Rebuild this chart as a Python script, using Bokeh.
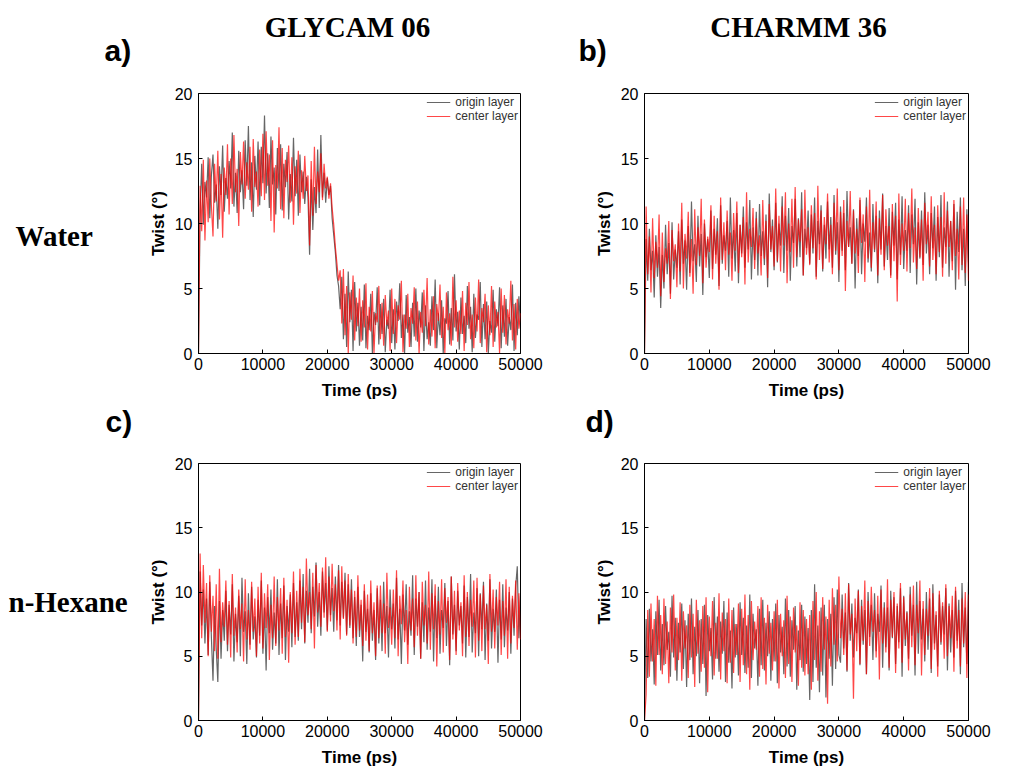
import numpy as np
from bokeh.plotting import figure
from bokeh.models import Range1d, FixedTicker, Legend, LegendItem
from bokeh.layouts import row, column
from bokeh.core.properties import value
from bokeh.embed import file_html
from bokeh.resources import INLINE

x_ticks = [0, 10000, 20000, 30000, 40000, 50000]
y_ticks = [0, 5, 10, 15, 20]
series_names = ["origin layer", "center layer"]
column_titles = ["GLYCAM 06", "CHARMM 36"]
row_titles = ["Water", "n-Hexane"]
panel_tags = ["a)", "b)", "c)", "d)"]

a_origin = [0,
    11.0, 14.6, 9.9, 13.2, 12.0, 15.1, 10.4, 13.7,
    15.3, 11.6, 13.0, 9.6, 14.4, 12.2, 16.0, 10.9, 13.5, 11.9,
    14.8, 12.7, 17.0, 11.3, 13.9, 10.8, 15.6, 12.4, 14.1, 11.1,
    16.4, 12.9, 17.5, 11.8, 14.7, 10.5, 15.2, 12.6, 16.3, 11.4,
    15.9, 13.1,
    18.3, 12.3, 15.4, 11.2, 16.7, 13.0, 14.3, 10.7, 15.8, 12.5,
    16.1, 11.0, 14.6, 12.8, 15.5, 10.3, 13.8, 11.7, 16.6, 12.1,
    14.9, 10.6, 15.3, 12.4, 14.0, 11.5, 13.6, 12.0,
    7.6, 13.4, 9.5, 12.8, 10.8, 15.7, 11.2, 16.8, 12.0, 13.9,
    11.6, 13.5, 12.2, 12.9,
    10.4, 9.1, 7.8, 6.0, 5.2, 3.4,
    5.9, 1.1, 4.6, 0.5, 6.3, 2.4, 4.9, 0.2, 5.5, 1.7, 3.9, 0.6,
    3.6, 1.0, 5.3, 0.4, 2.9, 1.8, 4.6, 0.0, 3.2, 2.2,
    5.1, 0.7, 3.8, 1.5, 4.2, 0.1, 2.6, 1.9, 4.9, 0.8,
    3.4, 0.3, 4.0, 2.5, 5.4, 1.2, 3.0, 0.0, 4.5, 1.6,
    2.8, 0.5, 3.9, 1.3, 5.0, 0.9, 3.3, 2.0, 4.7, 0.2,
    3.7, 1.1, 2.4, 0.6, 4.4, 1.8, 5.7, 0.4, 3.1, 1.4,
    4.1, 0.0, 2.7, 2.3, 4.8, 0.7, 3.5, 1.0, 6.1, 1.7,
    3.2, 0.3, 4.3, 1.5, 2.9, 0.8, 5.2, 1.9, 3.6, 0.1,
    4.6, 1.2, 3.0, 2.6, 5.5, 0.5, 3.8, 1.1, 4.0, 0.0,
    2.5, 1.6, 4.9, 0.9, 3.4, 2.1, 5.1, 0.4, 3.7, 1.3,
    4.2, 0.6, 2.8, 1.8, 5.3, 0.2, 3.9, 1.4, 4.4, 2.0]

a_center = [0,
    12.9, 9.4, 14.9, 8.7, 13.3, 10.1, 15.0, 11.4,
    9.0, 14.6, 11.7, 15.6, 10.3, 13.8, 8.9, 14.3, 12.2, 16.1,
    10.7, 15.0, 11.5, 16.8, 12.4, 14.2, 9.8, 15.5, 13.0, 16.3,
    11.9, 14.7, 12.6, 15.9, 10.9, 16.5, 12.8, 14.0, 11.3, 15.7,
    12.1, 16.9,
    11.8, 17.1, 12.9, 15.3, 10.2, 16.4, 9.3, 14.5, 12.7, 17.4,
    11.1, 15.8, 10.4, 14.9, 13.2, 16.0, 11.6, 15.1, 9.9, 14.4,
    12.3, 15.6, 10.8, 14.1, 11.9, 15.2, 12.5, 13.7,
    8.3, 14.8, 10.6, 15.9, 11.5, 14.0, 12.4, 15.4, 11.8, 14.6,
    12.7, 13.6, 11.9, 13.1,
    11.2, 9.9, 8.2, 6.9, 5.6, 6.4,
    2.3, 6.5, 1.4, 5.2, 0.0, 4.7, 2.6, 6.0, 1.0, 4.3, 2.1, 5.0,
    0.9, 4.1, 2.0, 5.4, 0.3, 3.6, 1.7, 4.8, 0.0, 3.1,
    2.4, 5.2, 1.1, 3.9, 0.6, 4.5, 2.2, 3.3, 0.2, 5.0,
    1.5, 4.2, 0.8, 3.7, 2.6, 5.6, 0.1, 3.0, 1.9, 4.6,
    0.5, 3.5, 2.3, 5.1, 1.0, 4.0, 0.0, 3.2, 1.6, 4.9,
    2.1, 5.8, 0.7, 3.4, 1.3, 4.4, 0.4, 3.8, 2.5, 5.3,
    1.2, 3.6, 0.0, 4.7, 1.8, 3.1, 0.6, 5.9, 2.0, 4.1,
    0.9, 3.3, 1.5, 4.8, 0.2, 3.9, 2.2, 5.5, 1.1, 3.0,
    0.4, 4.3, 1.7, 5.7, 0.8, 3.5, 2.4, 4.6, 0.1, 3.7,
    1.4, 5.2, 0.5, 4.0, 2.0, 3.2, 0.0, 5.0, 1.6, 4.5,
    0.7, 3.4, 2.3, 5.6, 1.0, 3.8, 0.3, 4.2, 1.9, 3.1]

b_origin = [0,
    8.8, 5.6, 9.6, 6.4, 7.9, 4.3, 9.1, 5.9, 8.2, 3.5,
    7.6, 5.0, 9.9, 6.1, 8.5, 4.6, 10.1, 5.7, 8.0, 6.6,
    9.4, 5.3, 10.3, 6.9, 8.7, 4.9, 9.8, 6.2, 11.7, 7.1,
    8.4, 5.5, 10.6, 6.7, 9.2, 4.5, 10.0, 7.4, 8.8, 5.8,
    11.0, 6.5, 9.6, 7.6, 10.4, 5.2, 11.4, 6.9, 9.1, 7.9,
    10.2, 5.9, 12.0, 7.3, 9.5, 6.3, 10.8, 5.4, 9.9, 7.7,
    11.3, 6.6, 10.1, 8.0, 11.8, 5.7, 9.7, 7.2, 10.9, 6.0,
    11.5, 7.5, 9.4, 6.8, 10.7, 5.1, 12.3, 7.8, 10.3, 6.4,
    11.6, 7.0, 10.0, 8.3, 12.1, 6.2, 10.6, 7.9, 11.2, 5.6,
    9.8, 8.5, 11.9, 6.7, 10.4, 7.4, 12.4, 6.0, 9.6, 8.1,
    11.0, 6.9, 10.7, 7.7, 12.0, 5.9, 10.2, 8.4, 11.4, 6.3,
    9.9, 7.3, 11.7, 8.0, 10.5, 6.6, 12.2, 7.6, 10.1, 5.5,
    11.3, 7.9, 10.8, 6.4, 12.5, 8.2, 9.7, 6.9, 11.1, 5.0,
    10.4, 7.5, 11.8, 6.1, 10.0, 8.6, 12.0, 7.0, 9.3, 6.3,
    11.5, 7.8, 10.6, 5.4, 11.0, 8.0, 12.3, 6.7, 9.8, 7.2,
    11.2, 6.0, 10.9, 8.3, 11.6, 5.7, 10.3, 7.6, 12.1, 6.5,
    9.5, 7.9, 11.4, 6.2, 10.7, 8.4, 11.9, 5.3, 10.1, 7.3,
    11.0, 6.8, 12.4, 7.7, 9.9, 6.1, 10.8, 8.1, 11.3, 5.6,
    10.5, 7.4, 12.2, 6.6, 9.7, 8.2, 11.7, 5.9, 10.2, 7.1,
    11.5, 4.9, 10.9, 7.8, 12.0, 6.4, 9.6, 5.2, 11.1, 7.0]

b_center = [0,
    11.3, 6.1, 9.0, 4.7, 10.4, 5.8, 8.6, 6.6, 10.7, 4.4,
    9.3, 5.5, 8.1, 6.9, 10.2, 4.2, 9.5, 7.1, 8.4, 5.1,
    10.0, 6.3, 11.6, 5.0, 9.2, 7.3, 10.9, 5.9, 8.8, 4.6,
    11.1, 6.8, 9.7, 7.5, 11.9, 5.4, 10.3, 6.6, 9.0, 7.8,
    11.4, 5.7, 10.6, 6.9, 9.4, 4.9, 12.0, 7.2, 10.1, 6.4,
    11.0, 7.6, 9.3, 5.6, 10.8, 7.9, 11.7, 6.2, 9.9, 7.4,
    10.5, 5.3, 12.4, 7.0, 9.6, 8.2, 11.2, 6.5, 10.4, 7.7,
    9.1, 6.0, 11.8, 7.3, 10.2, 5.8, 11.5, 8.0, 9.8, 6.7,
    12.7, 7.1, 10.6, 6.3, 11.3, 8.3, 12.4, 5.4, 10.0, 7.8,
    11.9, 6.6, 12.8, 7.4, 10.3, 8.6, 11.1, 6.0, 12.6, 7.6,
    9.7, 6.8, 11.4, 8.1, 10.8, 5.7, 12.9, 7.2, 11.0, 6.5,
    10.5, 8.4, 12.3, 7.0, 9.9, 6.1, 11.6, 7.9, 12.7, 6.4,
    10.9, 7.5, 11.8, 4.8, 10.2, 8.2, 12.5, 6.9, 11.0, 7.7,
    9.6, 6.2, 12.0, 8.5, 10.7, 5.5, 11.3, 7.3, 12.6, 6.6,
    10.1, 8.0, 11.7, 6.0, 10.4, 7.6, 12.2, 6.4, 11.1, 8.3,
    9.8, 5.8, 11.5, 7.1, 10.6, 4.0, 12.3, 6.8, 10.0, 7.9,
    11.9, 6.3, 10.8, 8.1, 12.7, 7.0, 9.7, 6.5, 11.2, 7.4,
    10.3, 5.6, 11.6, 8.4, 10.9, 6.7, 12.1, 7.2, 9.9, 6.1,
    11.4, 7.8, 10.5, 5.9, 12.4, 6.9, 11.0, 8.2, 10.2, 6.4,
    11.8, 7.5, 9.6, 5.7, 11.3, 6.8, 12.0, 6.2, 10.7, 5.6]

c_origin = [0,
    11.6, 7.4, 10.2, 6.0, 9.5, 5.1, 10.8, 6.5, 3.1, 8.9,
    5.6, 3.0, 9.3, 4.8, 8.6, 6.2,
    10.1, 5.4, 9.0, 6.7, 10.6, 4.6, 8.3, 6.1, 9.7, 5.0,
    11.1, 6.9, 8.5, 4.4, 9.9, 5.9, 10.4, 6.3, 8.1, 4.9,
    9.4, 6.6, 10.9, 5.2, 8.8, 3.9, 9.6, 6.8, 10.2, 5.5,
    8.4, 6.0, 11.0, 5.1, 9.1, 6.4, 10.5, 4.7, 8.9, 6.9,
    9.8, 5.7, 10.7, 6.5,
    9.2, 6.2, 10.9, 7.1, 11.4, 6.0, 10.1, 7.6, 11.8, 6.8,
    10.4, 8.1, 12.3, 7.3, 10.0, 6.6, 11.6, 8.4, 10.7, 7.0,
    12.0, 8.2, 10.3, 6.9, 11.2, 7.8, 12.1, 7.4, 10.8, 8.0,
    11.5, 6.7, 10.6, 7.2, 11.0, 6.4,
    9.6, 5.8, 10.4, 6.5, 9.0, 4.6, 10.1, 6.9, 8.7, 5.3,
    9.9, 6.2, 8.6, 4.7, 10.3, 6.0,
    9.4, 5.4, 10.8, 6.8, 8.9, 4.9, 10.2, 7.1, 9.1, 5.6,
    11.1, 6.3, 8.7, 4.4, 9.8, 7.0, 10.6, 5.9, 8.5, 6.6,
    11.3, 5.1, 9.5, 7.3, 10.0, 4.8, 9.2, 6.1, 10.9, 5.5,
    8.8, 6.9, 11.0, 4.6, 9.7, 6.4, 10.4, 5.2, 8.6, 7.2,
    10.7, 5.8, 9.3, 4.3, 11.2, 6.7, 9.0, 5.4, 10.1, 7.4,
    8.9, 6.0, 10.5, 4.9, 9.6, 6.5, 11.4, 5.3, 8.4, 6.8,
    10.3, 5.0, 9.9, 7.1, 10.8, 4.7, 9.1, 6.2, 11.0, 5.6,
    8.7, 6.9, 10.2, 4.5, 9.4, 6.3, 10.6, 5.7, 8.8, 7.0,
    10.0, 5.2, 9.5, 6.6, 10.4, 12.0, 6.4, 9.7]

c_center = [0,
    13.0, 6.4, 12.1, 7.6, 10.7, 5.0, 11.3, 6.9, 9.7, 5.4,
    10.6, 4.8, 11.8, 6.1, 9.2, 7.3,
    10.9, 5.9, 9.3, 4.9, 11.4, 6.6, 8.8, 5.3, 10.2, 7.1,
    9.1, 4.6, 11.0, 6.3, 8.6, 5.5, 10.8, 6.9, 9.5, 5.0,
    10.4, 6.0, 11.5, 5.6, 9.9, 7.2, 10.6, 4.7, 9.0, 6.4,
    11.2, 5.8, 9.6, 7.0, 10.3, 5.2, 11.1, 6.5, 9.4, 4.5,
    10.0, 6.8, 11.6, 5.9,
    10.1, 6.5, 11.8, 7.6, 10.4, 6.1, 12.6, 8.2, 10.0, 7.1,
    11.5, 5.6, 12.1, 8.4, 10.7, 7.3, 11.9, 8.0, 12.7, 6.9,
    11.2, 7.7, 12.2, 8.5, 10.6, 7.0, 11.7, 6.3, 12.0, 7.9,
    10.9, 6.6, 11.4, 7.4, 10.2, 6.0,
    10.1, 6.5, 11.3, 7.0, 9.4, 5.8, 10.6, 6.2, 9.8, 5.4,
    10.9, 6.8, 9.2, 5.0, 10.5, 6.4,
    10.5, 6.8, 9.1, 5.2, 11.5, 7.2, 8.8, 5.9, 10.2, 6.4,
    11.7, 5.0, 9.7, 7.5, 10.9, 6.1, 8.6, 4.4, 10.4, 7.0,
    9.5, 5.7, 11.3, 6.6, 10.0, 4.8, 10.8, 7.4, 9.0, 6.0,
    11.6, 5.5, 9.9, 7.1, 10.6, 4.2, 9.3, 6.7, 11.0, 5.3,
    10.3, 7.6, 9.6, 4.7, 11.2, 6.3, 10.1, 5.1, 10.7, 7.0,
    9.2, 5.0, 11.3, 6.5, 10.0, 5.8, 9.4, 7.3, 10.9, 4.9,
    11.1, 6.2, 9.8, 5.4, 10.5, 7.1, 9.0, 4.4, 11.4, 6.9,
    10.2, 5.6, 9.6, 7.4, 10.8, 5.1, 9.3, 6.6, 11.0, 4.8,
    10.4, 6.0, 9.7, 7.2, 10.9, 5.5, 9.9, 6.3]

d_origin = [0,
    7.9, 3.3, 8.7, 4.6, 7.1, 2.8, 8.5, 5.1, 9.4, 3.9,
    7.5, 4.3, 8.9, 5.5, 6.9, 3.4, 9.7, 4.9, 8.0, 3.1,
    7.6, 5.3, 9.1, 4.0, 7.8, 2.6, 8.3, 4.7, 9.5, 3.6,
    7.3, 5.0, 8.6, 2.9, 7.9, 4.4, 9.0, 1.9, 8.2, 5.4,
    7.2, 3.2, 9.6, 4.8, 8.1, 3.8, 7.7, 5.2, 9.3, 3.0,
    8.4, 4.5, 7.0, 2.5, 8.8, 4.9, 7.5, 3.5, 9.2, 5.1,
    8.0, 3.7, 7.4, 4.1, 9.8, 3.3, 8.3, 5.6, 7.1, 2.7,
    8.7, 4.3, 9.4, 3.9, 7.6, 5.0, 8.5, 3.1, 7.9, 4.6,
    9.1, 2.9, 8.2, 5.3, 7.3, 3.6, 9.5, 4.2, 8.6, 3.4,
    7.8, 5.5, 8.9, 2.4, 7.0, 4.7, 9.0, 3.8, 8.1, 4.4,
    7.2, 1.6, 8.6, 3.0, 10.6, 4.1, 7.4, 2.2, 8.8, 3.5,
    9.0, 1.8, 7.9, 4.8, 8.3, 2.7, 9.6, 4.0, 10.2, 5.1,
    4.5, 9.8, 5.6, 8.4, 3.8, 10.7, 6.2, 9.1, 4.9, 8.0,
    6.8, 10.2, 4.3, 9.4, 5.9, 8.6, 3.6, 10.0, 6.5, 9.0,
    4.7, 9.9, 5.4, 8.3, 6.9, 10.5, 4.1, 9.2, 5.7, 8.8,
    3.9, 10.1, 6.4, 9.6, 4.4, 8.9, 6.1, 10.3, 3.4, 9.7,
    5.8, 8.5, 4.8, 10.4, 6.6, 9.0, 3.5, 10.8, 5.2, 9.3,
    6.3, 8.7, 4.6, 10.0, 5.5, 9.5, 3.7, 10.6, 6.0, 8.2,
    4.2, 9.8, 5.9, 8.9, 6.7, 10.3, 3.9, 9.1, 5.3, 8.6,
    4.9, 10.1, 6.2, 9.4, 3.6, 10.7, 5.7, 8.8, 4.4, 10.8]

d_center = [0,
    2.0, 8.6, 3.4, 9.1, 4.6, 7.9, 2.7, 9.7, 5.1, 8.2,
    3.6, 9.5, 4.4, 7.7, 2.9, 8.8, 5.3, 9.8, 3.9, 8.0,
    4.7, 9.2, 3.1, 8.5, 5.6, 7.4, 3.3, 9.0, 4.9, 8.3,
    2.6, 9.4, 5.2, 7.8, 3.8, 8.9, 4.1, 9.6, 2.2, 8.1,
    5.0, 9.3, 3.5, 7.6, 4.8, 9.9, 3.2, 8.4, 5.4, 7.9,
    2.9, 9.5, 4.5, 8.6, 3.7, 7.5, 5.1, 9.1, 3.0, 8.7,
    4.3, 9.8, 3.6, 8.2, 2.4, 9.3, 4.7, 7.7, 5.5, 8.9,
    3.4, 9.6, 4.0, 8.0, 2.8, 9.0, 5.2, 7.6, 3.9, 8.5,
    4.6, 9.4, 2.5, 8.3, 5.0, 7.8, 3.3, 9.7, 4.4, 8.1,
    3.0, 8.8, 5.3, 7.4, 2.7, 9.2, 4.1, 8.6, 3.5, 7.9,
    3.6, 8.2, 2.4, 9.3, 4.7, 10.0, 3.1, 8.5, 3.8, 9.6,
    5.5, 8.1, 1.3, 9.4, 4.2, 10.3, 5.9, 9.0, 4.6, 11.2,
    6.4, 8.7, 5.1, 9.9, 3.9, 10.6, 6.7, 8.3, 1.7, 9.5,
    5.4, 10.1, 4.4, 8.9, 6.2, 10.9, 3.6, 9.3, 5.8, 10.4,
    6.9, 8.6, 4.9, 9.7, 3.2, 10.2, 6.0, 8.8, 5.3, 11.0,
    4.1, 9.4, 6.5, 10.0, 3.7, 9.1, 5.6, 10.7, 4.5, 9.6,
    6.3, 8.4, 3.9, 9.8, 5.7, 10.5, 4.3, 9.0, 6.8, 10.9,
    3.5, 9.3, 5.1, 8.7, 6.6, 10.3, 4.0, 9.9, 5.5, 8.5,
    3.4, 10.1, 6.1, 9.2, 4.8, 10.6, 5.0, 8.9, 6.4, 9.7,
    3.8, 10.4, 5.6, 8.6, 4.2, 9.5, 6.0, 10.0, 3.3, 9.8]

T_START, T_END = 0, 50000

SANS = "Liberation Sans"
SERIF = "Liberation Serif"


def make_panel(origin, center, width, height, ml, mr, mt, mb):
    p = figure(width=width, height=height, output_backend="svg", toolbar_location=None,
               x_range=Range1d(T_START, T_END), y_range=Range1d(y_ticks[0], y_ticks[-1]),
               min_border_left=ml, min_border_right=mr, min_border_top=mt, min_border_bottom=mb,
               background_fill_color="white", border_fill_color="white")
    p.xgrid.visible = False
    p.ygrid.visible = False
    p.outline_line_color = "black"
    p.outline_line_width = 1
    p.outline_line_alpha = 1

    t_o = np.linspace(T_START, T_END, len(origin))
    t_c = np.linspace(T_START, T_END, len(center))
    r1 = p.line(t_o, origin, line_color="black", line_width=1.2, line_alpha=0.6)
    r2 = p.line(t_c, center, line_color="#ff0000", line_width=1.2, line_alpha=0.72)

    legend = Legend(items=[LegendItem(label=series_names[0], renderers=[r1]),
                           LegendItem(label=series_names[1], renderers=[r2])],
                    location="top_right", border_line_color=None, background_fill_alpha=0,
                    label_text_font=SANS, label_text_font_size="12px", label_text_color="#333333",
                    glyph_width=24, glyph_height=14, label_height=14, spacing=0,
                    padding=2, margin=2, label_standoff=5)
    p.add_layout(legend)

    p.xaxis.ticker = FixedTicker(ticks=x_ticks)
    p.yaxis.ticker = FixedTicker(ticks=y_ticks)
    for ax in (p.xaxis, p.yaxis):
        ax.axis_line_color = "black"
        ax.major_tick_line_color = "black"
        ax.major_tick_in = 4
        ax.major_tick_out = 0
        ax.minor_tick_line_color = None
        ax.major_label_text_font = SANS
        ax.major_label_text_font_size = "16px"
        ax.major_label_text_color = "black"
        ax.axis_label_text_font = SANS
        ax.axis_label_text_font_size = "17px"
        ax.axis_label_text_font_style = "bold"
        ax.axis_label_text_color = "black"
    p.xaxis.axis_label = "Time (ps)"
    p.yaxis.axis_label = "Twist (°)"
    p.xaxis.major_label_standoff = 4
    p.xaxis.axis_label_standoff = 8
    p.yaxis.major_label_standoff = 6
    p.yaxis.axis_label_standoff = 4
    return p


def text_panel(width, height, items):
    p = figure(width=width, height=height, output_backend="svg", toolbar_location=None,
               x_range=Range1d(0, width), y_range=Range1d(height, 0),
               x_axis_type=None, y_axis_type=None, min_border=0,
               background_fill_color="white", border_fill_color="white")
    p.outline_line_color = None
    p.grid.visible = False
    for (x, y, txt, font, size, align) in items:
        p.text(x=[x], y=[y], text=[txt], text_font=value(font), text_font_size=value(size),
               text_font_style="bold", text_color="black", text_align=align,
               text_baseline="middle")
    return p


left = text_panel(145, 770, [
    (104, 50, panel_tags[0], SANS, "30px", "left"),
    (15, 235, row_titles[0], SERIF, "29px", "left"),
    (105, 421, panel_tags[2], SANS, "30px", "left"),
    (8, 601, row_titles[1], SERIF, "29px", "left"),
])
header = text_panel(873, 83, [
    (202, 26, column_titles[0], SERIF, "29px", "center"),
    (653, 26, column_titles[1], SERIF, "29px", "center"),
    (433, 50, panel_tags[1], SANS, "30px", "left"),
])
strip = text_panel(873, 50, [
    (440, 18, panel_tags[3], SANS, "30px", "left"),
])

pa = make_panel(a_origin, a_center, 423, 320, 50, 48, 10, 50)
pb = make_panel(b_origin, b_center, 450, 320, 76, 50, 10, 50)
pc = make_panel(c_origin, c_center, 423, 317, 50, 48, 10, 50)
pd = make_panel(d_origin, d_center, 450, 317, 76, 50, 10, 50)

layout = row(left, column(header, row(pa, pb), strip, row(pc, pd)))

open("out.html", "w").write(file_html(layout, INLINE))
